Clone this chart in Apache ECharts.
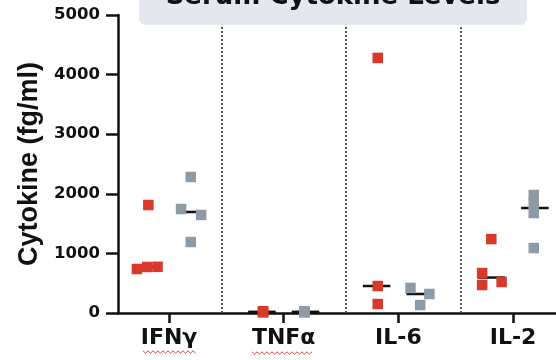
<!DOCTYPE html>
<html>
<head>
<meta charset="utf-8">
<script src="https://cdn.jsdelivr.net/npm/echarts@6/dist/echarts.min.js"></script>
<style>html,body{margin:0;padding:0;background:#fff;}#c{width:556px;height:360px;}</style>
</head>
<body>
<div id="c"></div>
<script>
// ---- data ----
const categories = ['IFNγ', 'TNFα', 'IL-6', 'IL-2'];
const yTicks = [0, 1000, 2000, 3000, 4000, 5000];
// red group values per cytokine
const redIFNg = [738, 772, 775, 1812];
const redTNFa = [30, 20, 10];
const redIL6  = [4280, 453, 151];
const redIL2  = [1240, 670, 470, 520];
// grey group values per cytokine
const greyIFNg = [2282, 1745, 1645, 1191];
const greyTNFa = [30, 20, 10];
const greyIL6  = [420, 319, 134];
const greyIL2  = [1980, 1845, 1678, 1090];

// ---- layout (jitter offsets in category units, separators) ----
const redJitter  = [[-0.28, -0.19, -0.10, -0.18], [-0.18, -0.18, -0.18], [-0.18, -0.18, -0.18], [-0.19, -0.27, -0.27, -0.10]];
const greyJitter = [[0.19, 0.105, 0.28, 0.19], [0.18, 0.18, 0.18], [0.105, 0.27, 0.19], [0.18, 0.18, 0.18, 0.18]];
const redCenter = -0.19, greyCenter = 0.19, medianHalf = 0.12;
const separatorsX = [0.46, 1.54, 2.54];

const redGroups = [redIFNg, redTNFa, redIL6, redIL2];
const greyGroups = [greyIFNg, greyTNFa, greyIL6, greyIL2];

function points(groups, jit) {
  const out = [];
  groups.forEach((vals, ci) => vals.forEach((v, k) => out.push([ci + jit[ci][k], v])));
  return out;
}
function median(a) {
  const s = a.slice().sort((x, y) => x - y), n = s.length;
  return n % 2 ? s[(n - 1) / 2] : (s[n / 2 - 1] + s[n / 2]) / 2;
}
function medians(groups, c) {
  return groups.map((vals, ci) => [ci + c, median(vals)]);
}

const RED = '#d8392b', GREY = '#8f9ba4';

const medianRender = function (params, api) {
  const x = api.value(0), y = api.value(1);
  const p1 = api.coord([x - medianHalf, y]);
  const p2 = api.coord([x + medianHalf, y]);
  return { type: 'line', shape: { x1: p1[0], y1: p1[1], x2: p2[0], y2: p2[1] },
           style: { stroke: '#111', lineWidth: 2.5 } };
};

function squiggle(x0, x1, y) {
  const pts = [];
  let up = true;
  for (let x = x0; x <= x1; x += 2.5) { pts.push([x, y + (up ? -1.2 : 1.2)]); up = !up; }
  return { type: 'polyline', shape: { points: pts }, style: { stroke: '#e0463a', lineWidth: 1, fill: null }, z: 50 };
}

const chart = echarts.init(document.getElementById('c'), null, { renderer: 'canvas' });
const pxPerCat = 114.7;
const xMin = (118 - 169) / pxPerCat;
const xMax = xMin + (556 - 118) / pxPerCat;

chart.setOption({
  animation: false,
  backgroundColor: '#fff',
  grid: { left: 118, right: 0, top: 15, bottom: 47, containLabel: false },
  xAxis: {
    type: 'value', min: xMin, max: xMax,
    axisLine: { show: true, onZero: false, lineStyle: { color: '#111', width: 2.5 } },
    axisTick: { show: true, length: 10, lineStyle: { color: '#111', width: 2.5 }, customValues: [0, 1, 2, 3] },
    axisLabel: { customValues: [0, 1, 2, 3], formatter: v => categories[Math.round(v)], margin: 14,
                 fontFamily: 'DejaVu Sans', fontWeight: 'bold', fontSize: 22, color: '#111' },
    splitLine: { show: false }
  },
  yAxis: {
    type: 'value', min: 0, max: 5000, interval: 1000,
    name: 'Cytokine (fg/ml)', nameLocation: 'middle', nameGap: 71,
    nameTextStyle: { fontFamily: 'Liberation Sans', fontWeight: 'bold', fontSize: 27, color: '#111' },
    axisLine: { show: true, onZero: false, lineStyle: { color: '#111', width: 2.5 } },
    axisTick: { show: true, length: 12, lineStyle: { color: '#111', width: 2.5 } },
    axisLabel: { margin: 18, formatter: v => String(v), fontFamily: 'DejaVu Sans', fontWeight: 'bold', fontSize: 16.5, color: '#111' },
    splitLine: { show: false }
  },
  series: [
    {
      type: 'scatter', data: [], silent: true,
      markLine: { silent: true, symbol: 'none', label: { show: false },
        lineStyle: { color: '#555', width: 2, type: [2, 2] },
        data: separatorsX.map(x => ({ xAxis: x })) }
    },
    { type: 'custom', renderItem: medianRender, data: medians(redGroups, redCenter), z: 2, silent: true },
    { type: 'custom', renderItem: medianRender, data: medians(greyGroups, greyCenter), z: 2, silent: true },
    { type: 'scatter', symbol: 'rect', symbolSize: 10.5, data: points(redGroups, redJitter),
      itemStyle: { color: RED, opacity: 1 }, z: 3 },
    { type: 'scatter', symbol: 'rect', symbolSize: 10.5, data: points(greyGroups, greyJitter),
      itemStyle: { color: GREY, opacity: 1 }, z: 3 }
  ],
  graphic: [
    { type: 'rect', shape: { x: 139, y: -20, width: 388, height: 45, r: 7 }, style: { fill: '#e4e7ed' }, z: 100 },
    { type: 'text', x: 333, y: -3, z: 101,
      style: { text: 'Serum Cytokine Levels', fill: '#111', font: 'bold 26px "DejaVu Sans"', textAlign: 'center', textVerticalAlign: 'middle' } },
    squiggle(143, 196, 352),
    squiggle(252, 314, 353)
  ]
});
</script>
</body>
</html>
